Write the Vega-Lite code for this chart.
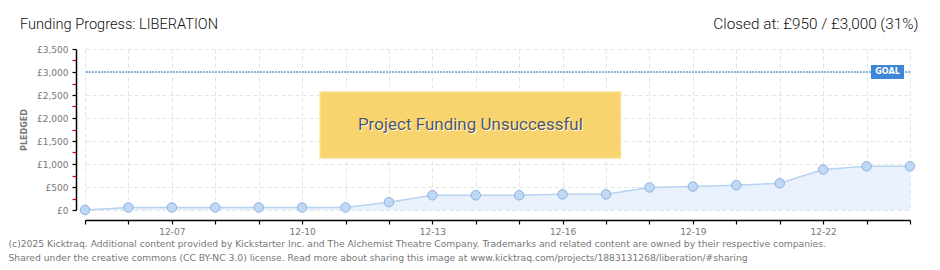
{
  "$schema": "https://vega.github.io/schema/vega-lite/v6.json",
  "autosize": {"type": "none"},
  "padding": {"left": 85, "top": 49, "right": 30, "bottom": 60},
  "width": 825,
  "height": 161,
  "background": "white",
  "title": {
    "text": "Funding Progress: LIBERATION",
    "anchor": "start",
    "frame": "group",
    "dx": -65,
    "dy": 16,
    "offset": 0,
    "font": "Roboto",
    "fontWeight": 300,
    "fontSize": 14.6,
    "color": "#111"
  },
  "data": {
    "values": [
      {"date": "2024-12-05", "pledged": 0},
      {"date": "2024-12-06", "pledged": 55},
      {"date": "2024-12-07", "pledged": 55},
      {"date": "2024-12-08", "pledged": 55},
      {"date": "2024-12-09", "pledged": 55},
      {"date": "2024-12-10", "pledged": 55},
      {"date": "2024-12-11", "pledged": 55},
      {"date": "2024-12-12", "pledged": 170},
      {"date": "2024-12-13", "pledged": 320},
      {"date": "2024-12-14", "pledged": 320},
      {"date": "2024-12-15", "pledged": 320},
      {"date": "2024-12-16", "pledged": 340},
      {"date": "2024-12-17", "pledged": 340},
      {"date": "2024-12-18", "pledged": 490},
      {"date": "2024-12-19", "pledged": 510},
      {"date": "2024-12-20", "pledged": 540},
      {"date": "2024-12-21", "pledged": 580},
      {"date": "2024-12-22", "pledged": 880},
      {"date": "2024-12-23", "pledged": 950},
      {"date": "2024-12-24", "pledged": 950}
    ]
  },
  "layer": [
    {
      "mark": {"type": "area", "color": "#e9f2fc", "opacity": 1, "line": {"color": "#b7d3f1", "strokeWidth": 1.5}},
      "encoding": {
        "x": {
          "field": "date", "type": "temporal",
          "scale": {"type": "utc", "domain": ["2024-12-05", "2024-12-24"], "nice": false},
          "axis": {
            "orient": "bottom",
            "offset": 10,
            "values": ["2024-12-05","2024-12-06","2024-12-07","2024-12-08","2024-12-09","2024-12-10","2024-12-11","2024-12-12","2024-12-13","2024-12-14","2024-12-15","2024-12-16","2024-12-17","2024-12-18","2024-12-19","2024-12-20","2024-12-21","2024-12-22","2024-12-23","2024-12-24"],
            "labelExpr": "utcdate(datum.value) % 3 == 1 ? utcFormat(datum.value, '%m-%d') : ''",
            "labelFont": "DejaVu Sans", "labelFontSize": 9, "labelColor": "#777", "labelPadding": 3,
            "labelOverlap": false,
            "domainColor": "#000", "domainWidth": 1.5,
            "tickColor": "#000", "tickSize": 4, "tickWidth": 1.2,
            "grid": true, "gridColor": "#e3e3e3", "gridDash": [4, 3], "gridWidth": 1,
            "title": [
              "(c)2025 Kicktraq. Additional content provided by Kickstarter Inc. and The Alchemist Theatre Company. Trademarks and related content are owned by their respective companies.",
              "Shared under the creative commons (CC BY-NC 3.0) license. Read more about sharing this image at www.kicktraq.com/projects/1883131268/liberation/#sharing"
            ],
            "titleFont": "DejaVu Sans", "titleFontSize": 9.2, "titleFontWeight": "normal", "titleColor": "#777",
            "titleAnchor": "start", "titleAlign": "left", "titleBaseline": "top",
            "titleX": -77, "titleY": 19.5, "titleLineHeight": 13.5
          }
        },
        "y": {
          "field": "pledged", "type": "quantitative",
          "scale": {"domain": [0, 3500], "nice": false},
          "axis": {
            "offset": 9,
            "values": [0,250,500,750,1000,1250,1500,1750,2000,2250,2500,2750,3000,3250,3500],
            "labelExpr": "datum.value % 500 == 0 ? '£' + format(datum.value, ',') : ''",
            "labelOverlap": false,
            "labelFont": "DejaVu Sans", "labelFontSize": 9, "labelColor": "#777", "labelPadding": 4,
            "domainColor": "#000", "domainWidth": 1.5,
            "tickColor": {"condition": {"test": "datum.value % 500 != 0", "value": "#e00000"}, "value": "#000"},
            "tickSize": 4, "tickWidth": 1.2,
            "grid": true, "gridColor": "#e3e3e3", "gridDash": [4, 3], "gridWidth": 1,
            "gridOpacity": {"condition": {"test": "datum.value % 500 != 0", "value": 0}, "value": 1},
            "title": "PLEDGED",
            "titleFont": "DejaVu Sans", "titleFontSize": 8, "titleFontWeight": "bold", "titleColor": "#777",
            "titlePadding": 8
          }
        }
      }
    },
    {
      "mark": {"type": "rule", "color": "#8fb5e5", "strokeWidth": 2, "strokeDash": [2, 1]},
      "encoding": {"y": {"datum": 3000, "type": "quantitative", "axis": {"values": [0,250,500,750,1000,1250,1500,1750,2000,2250,2500,2750,3000,3250,3500], "labelOverlap": false}}}
    },
    {
      "mark": {"type": "point", "filled": true, "fill": "#bfd8f5", "stroke": "#8eb0db", "strokeWidth": 1, "size": 90, "opacity": 1},
      "encoding": {
        "x": {
          "field": "date", "type": "temporal",
          "axis": {
            "orient": "top",
            "labels": false, "ticks": false, "domain": false, "grid": false,
            "title": "Closed at:  £950 /  £3,000 (31%)",
            "titleFont": "Roboto", "titleFontWeight": 300, "titleFontSize": 15.3, "titleColor": "#111",
            "titleAlign": "right", "titleBaseline": "alphabetic", "titleAnchor": "end",
            "titleX": 833, "titleY": -21
          }
        },
        "y": {"field": "pledged", "type": "quantitative", "axis": {"values": [0,250,500,750,1000,1250,1500,1750,2000,2250,2500,2750,3000,3250,3500], "labelOverlap": false}}
      }
    },
    {
      "data": {"values": [{"note": "GOAL"}]},
      "mark": {"type": "point", "shape": "M-1.18,-0.5L1.18,-0.5L1.18,0.5L-1.18,0.5Z", "filled": true, "fill": "#3d86d8", "size": 784, "opacity": 1},
      "encoding": {
        "x": {"datum": {"year": 2024, "month": 12, "date": 24, "utc": true}, "type": "temporal", "axis": null},
        "xOffset": {"value": -22.5},
        "y": {"datum": 3000, "type": "quantitative", "axis": {"values": [0,250,500,750,1000,1250,1500,1750,2000,2250,2500,2750,3000,3250,3500], "labelOverlap": false}}
      }
    },
    {
      "data": {"values": [{"note": "GOAL"}]},
      "mark": {"type": "text", "color": "white", "font": "DejaVu Sans", "fontSize": 8, "fontWeight": "bold", "align": "center", "baseline": "middle"},
      "encoding": {
        "x": {"datum": {"year": 2024, "month": 12, "date": 24, "utc": true}, "type": "temporal", "axis": null},
        "xOffset": {"value": -22.5},
        "y": {"datum": 3000, "type": "quantitative", "axis": {"values": [0,250,500,750,1000,1250,1500,1750,2000,2250,2500,2750,3000,3250,3500], "labelOverlap": false}},
        "text": {"field": "note"}
      }
    },
    {
      "data": {"values": [{"note": "Project Funding Unsuccessful"}]},
      "mark": {"type": "rect", "fill": "#f7d46e", "stroke": "#fae08e", "strokeWidth": 1.5, "opacity": 1},
      "encoding": {
        "x": {"datum": {"year": 2024, "month": 12, "date": 10, "hours": 10, "utc": true}, "type": "temporal", "axis": null},
        "x2": {"datum": {"year": 2024, "month": 12, "date": 17, "hours": 8, "utc": true}},
        "y": {"datum": 2565, "type": "quantitative", "axis": {"values": [0,250,500,750,1000,1250,1500,1750,2000,2250,2500,2750,3000,3250,3500], "labelOverlap": false}},
        "y2": {"datum": 1130}
      }
    },
    {
      "data": {"values": [{"note": "Project Funding Unsuccessful"}]},
      "mark": {"type": "text", "color": "#ffffff", "font": "Roboto", "fontSize": 17, "align": "center", "baseline": "middle", "dx": 1, "dy": 1},
      "encoding": {
        "x": {"datum": {"year": 2024, "month": 12, "date": 13, "hours": 21, "utc": true}, "type": "temporal", "axis": null},
        "y": {"datum": 1848, "type": "quantitative", "axis": {"values": [0,250,500,750,1000,1250,1500,1750,2000,2250,2500,2750,3000,3250,3500], "labelOverlap": false}},
        "text": {"field": "note"}
      }
    },
    {
      "data": {"values": [{"note": "Project Funding Unsuccessful"}]},
      "mark": {"type": "text", "color": "#555555", "font": "Roboto", "fontSize": 17, "align": "center", "baseline": "middle"},
      "encoding": {
        "x": {"datum": {"year": 2024, "month": 12, "date": 13, "hours": 21, "utc": true}, "type": "temporal", "axis": null},
        "y": {"datum": 1848, "type": "quantitative", "axis": {"values": [0,250,500,750,1000,1250,1500,1750,2000,2250,2500,2750,3000,3250,3500], "labelOverlap": false}},
        "text": {"field": "note"}
      }
    }
  ],
  "resolve": {"axis": {"x": "independent"}},
  "config": {"view": {"stroke": null}}
}
